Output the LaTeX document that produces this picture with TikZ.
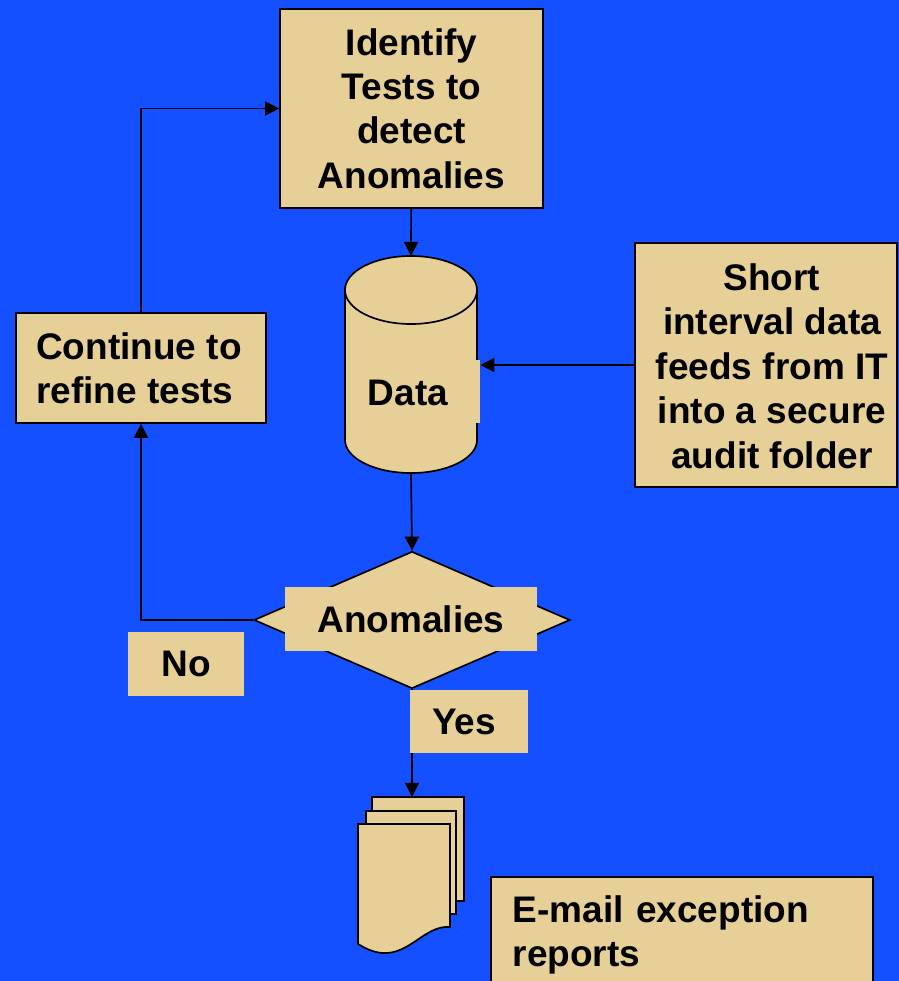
\documentclass[tikz,border=0pt]{standalone}
\usepackage{fontspec}
\setmainfont{Liberation Sans}
\usetikzlibrary{shapes.geometric,arrows.meta}
\definecolor{slideblue}{RGB}{20,80,255}
\definecolor{tan}{RGB}{230,208,152}
\begin{document}
\begin{tikzpicture}[x=0.025cm,y=-0.025cm,
    box/.style={draw,line width=1.2pt,fill=tan,font=\fontsize{26.3}{31.6}\selectfont\bfseries,align=center,inner sep=0pt},
    tag/.style={fill=tan,font=\fontsize{26.3}{31.6}\selectfont\bfseries,inner sep=0pt},
    link/.style={line width=1.2pt,-{Triangle[length=10pt,width=10pt]}}]
    % Define the slide area
    \useasboundingbox (0,0) rectangle (899,981);
    \fill[slideblue] (0,0) rectangle (899,981);
    \clip (0,0) rectangle (899,981);
    
    % Process boxes
    \node[box,minimum width=6.575cm,minimum height=4.975cm] (ident) at (411.5,108.5) {Identify\\Tests to\\detect\\Anomalies};
    \node[box,minimum width=6.55cm,minimum height=6.1cm] (feed) at (766,365) {};
    \node[font=\fontsize{26.3}{31.6}\selectfont\bfseries,align=center,inner sep=0pt] (feedtext) at (772,366) {Short\\interval data\\feeds from IT\\into a secure\\audit folder};
    \node[box,align=left,minimum width=6.25cm,minimum height=2.75cm] (refine) at (141,368) {\hspace*{-0.1cm}Continue to\\\hspace*{-0.1cm}refine tests};
    
    % Data store
    \coordinate (dbtop) at (411,256);
    \coordinate (dbbot) at (411,473);
    \filldraw[fill=tan,line width=1.2pt] (345,290) -- (345,440) arc[start angle=180,end angle=360,x radius=1.65cm,y radius=0.825cm] -- (477,290) arc[start angle=0,end angle=180,x radius=1.65cm,y radius=0.85cm] -- cycle;
    \draw[line width=1.2pt] (345,290) arc[start angle=180,end angle=360,x radius=1.65cm,y radius=0.85cm];
    \node[tag,minimum width=3.25cm,minimum height=1.575cm] (dblbl) at (415,391.5) {};
    \node[font=\fontsize{26.3}{31.6}\selectfont\bfseries] (dbtext) at (408,393) {Data};
    
    % Decision
    \node[diamond,draw,line width=1.2pt,fill=tan,inner sep=0pt,minimum width=7.9cm,minimum height=3.425cm] (decision) at (412,620) {};
    \node[tag,minimum width=6.3cm,minimum height=1.6cm] (declbl) at (411,619) {Anomalies};
    
    % Report stack
    \coordinate (rpttop) at (412,797);
    \filldraw[fill=tan,line width=1.2pt] (372,797) rectangle (464,901);
    \filldraw[fill=tan,line width=1.2pt] (366,811) rectangle (456,914);
    \filldraw[fill=tan,line width=1.2pt] (358,824) -- (450,824) -- (450,927) .. controls (425,925) and (410,955) .. (382,953) .. controls (372,952) and (365,948) .. (358,944) -- cycle;
    \node[box,align=left,text width=8.45cm,inner xsep=0.55cm,minimum width=9.55cm,minimum height=2.9cm,anchor=north west] (email) at (490,876) {E-mail exception\\reports};
    
    % Connectors
    \draw[link] (ident) -- (dbtop);
    \draw[link] (feed.west) -- (dblbl.east |- feed.west);
    \draw[link] (dbbot) -- (decision.north);
    \draw[link] (decision.west) -| (refine.south);
    \draw[link] (refine.north) |- (ident.west);
    \draw[link] (decision.south) -- (rpttop);
    
    % Branch labels
    \node[tag,minimum width=2.9cm,minimum height=1.6cm] (no) at (186,664) {No};
    \node[tag,minimum width=2.95cm,minimum height=1.575cm] (yes) at (469,721.5) {\hspace*{-0.25cm}Yes};
\end{tikzpicture}
\end{document}
